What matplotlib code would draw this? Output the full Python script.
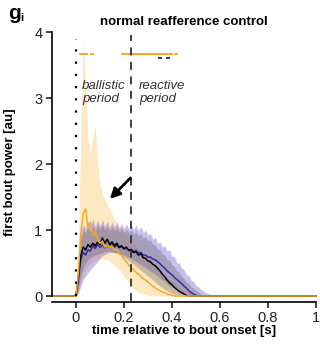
import numpy as np
import matplotlib
matplotlib.use("Agg")
import matplotlib.pyplot as plt

plt.rcParams['font.family'] = ['Liberation Sans', 'DejaVu Sans']

# time bins (s) after bout onset; everything outside is zero
time = np.round(np.arange(0, 0.61, 0.01), 2)
t_start, t_end = -0.1, 1.0

# black: normal reafference (mean, band)
k_mean = [0, 0.30, 0.62, 0.74, 0.70, 0.78, 0.74, 0.80, 0.76, 0.82,
          0.78, 0.88, 0.80, 0.86, 0.78, 0.82, 0.76, 0.80, 0.74, 0.76,
          0.72, 0.74, 0.69, 0.70, 0.66, 0.67, 0.62, 0.64, 0.58, 0.57,
          0.53, 0.52, 0.48, 0.46, 0.42, 0.38, 0.33, 0.29, 0.24, 0.20,
          0.17, 0.13, 0.10, 0.07, 0.05, 0.03, 0.01, 0, 0, 0,
          0, 0, 0, 0, 0, 0, 0, 0, 0, 0, 0]
k_hi = [0, 0.50, 0.85, 1.00, 0.96, 1.05, 0.98, 1.06, 0.99, 1.07,
        1.00, 1.08, 1.00, 1.06, 0.99, 1.05, 0.98, 1.04, 0.97, 1.03,
        0.96, 1.02, 0.95, 1.00, 0.93, 0.98, 0.91, 0.95, 0.88, 0.90,
        0.84, 0.85, 0.78, 0.78, 0.71, 0.70, 0.63, 0.62, 0.55, 0.54,
        0.47, 0.45, 0.38, 0.36, 0.30, 0.27, 0.21, 0.19, 0.14, 0.12,
        0.08, 0.06, 0.03, 0.02, 0.01, 0, 0, 0, 0, 0, 0]
k_lo = [0, 0.10, 0.30, 0.42, 0.50, 0.55, 0.58, 0.60, 0.62, 0.63,
        0.64, 0.66, 0.67, 0.68, 0.68, 0.67, 0.66, 0.65, 0.63, 0.61,
        0.58, 0.56, 0.53, 0.50, 0.48, 0.45, 0.42, 0.39, 0.36, 0.33,
        0.30, 0.27, 0.24, 0.21, 0.18, 0.15, 0.12, 0.10, 0.08, 0.06,
        0.04, 0.03, 0.02, 0.01, 0, 0, 0, 0, 0, 0,
        0, 0, 0, 0, 0, 0, 0, 0, 0, 0, 0]

# purple
p_mean = [0, 0.25, 0.55, 0.66, 0.62, 0.70, 0.68, 0.76, 0.72, 0.78,
          0.74, 0.77, 0.73, 0.77, 0.74, 0.78, 0.74, 0.77, 0.73, 0.75,
          0.71, 0.73, 0.69, 0.71, 0.67, 0.69, 0.65, 0.66, 0.62, 0.62,
          0.59, 0.59, 0.56, 0.55, 0.52, 0.49, 0.45, 0.42, 0.38, 0.35,
          0.32, 0.28, 0.25, 0.22, 0.19, 0.15, 0.12, 0.08, 0.05, 0.03,
          0.01, 0, 0, 0, 0, 0, 0, 0, 0, 0, 0]
p_hi = [0, 0.55, 0.95, 1.08, 1.02, 1.14, 1.05, 1.16, 1.06, 1.15,
        1.06, 1.15, 1.05, 1.13, 1.04, 1.12, 1.04, 1.11, 1.03, 1.10,
        1.02, 1.09, 1.01, 1.08, 1.00, 1.08, 0.99, 1.05, 0.96, 1.00,
        0.92, 0.95, 0.86, 0.89, 0.80, 0.82, 0.74, 0.76, 0.68, 0.70,
        0.60, 0.60, 0.50, 0.50, 0.42, 0.40, 0.32, 0.31, 0.24, 0.22,
        0.16, 0.14, 0.10, 0.08, 0.05, 0.04, 0.02, 0.01, 0, 0, 0]
p_lo = [0, 0.05, 0.15, 0.25, 0.30, 0.35, 0.40, 0.44, 0.48, 0.52,
        0.58, 0.61, 0.63, 0.65, 0.66, 0.66, 0.66, 0.65, 0.64, 0.63,
        0.62, 0.60, 0.58, 0.56, 0.54, 0.52, 0.50, 0.48, 0.45, 0.43,
        0.40, 0.38, 0.35, 0.33, 0.30, 0.27, 0.24, 0.21, 0.18, 0.16,
        0.14, 0.12, 0.10, 0.08, 0.06, 0.05, 0.04, 0.03, 0.02, 0.01,
        0, 0, 0, 0, 0, 0, 0, 0, 0, 0, 0]

# orange
o_mean = [0, 0.35, 0.95, 1.25, 1.32, 1.02, 1.12, 0.92, 0.97, 0.84,
          0.80, 0.83, 0.74, 0.77, 0.74, 0.76, 0.70, 0.71, 0.64, 0.62,
          0.55, 0.52, 0.47, 0.43, 0.40, 0.36, 0.33, 0.30, 0.26, 0.24,
          0.21, 0.18, 0.15, 0.12, 0.10, 0.08, 0.06, 0.05, 0.03, 0.02,
          0.01, 0, 0, 0, 0, 0, 0, 0, 0, 0,
          0, 0, 0, 0, 0, 0, 0, 0, 0, 0, 0]
o_hi = [0, 0.80, 2.50, 3.90, 3.20, 2.40, 2.15, 2.40, 2.60, 2.00,
        1.70, 1.55, 1.46, 1.40, 1.32, 1.24, 1.17, 1.12, 1.07, 1.02,
        0.97, 0.93, 0.88, 0.84, 0.80, 0.76, 0.72, 0.69, 0.66, 0.62,
        0.58, 0.54, 0.50, 0.46, 0.42, 0.38, 0.34, 0.31, 0.28, 0.25,
        0.22, 0.19, 0.16, 0.14, 0.11, 0.09, 0.07, 0.05, 0.03, 0.02,
        0.01, 0, 0, 0, 0, 0, 0, 0, 0, 0, 0]
o_lo = [0, 0.05, 0.20, 0.30, 0.40, 0.45, 0.50, 0.52, 0.55, 0.56,
        0.56, 0.57, 0.56, 0.55, 0.53, 0.50, 0.47, 0.43, 0.39, 0.35,
        0.30, 0.25, 0.20, 0.16, 0.12, 0.08, 0.06, 0.04, 0.03, 0.02,
        0.01, 0, 0, 0, 0, 0, 0, 0, 0, 0,
        0, 0, 0, 0, 0, 0, 0, 0, 0, 0,
        0, 0, 0, 0, 0, 0, 0, 0, 0, 0, 0]

# significant bins
o_sig = [0.02, 0.025, 0.03, 0.035, 0.04, 0.065,
         0.195, 0.2, 0.205, 0.21, 0.215, 0.22, 0.225, 0.23, 0.235, 0.24,
         0.245, 0.25, 0.255, 0.26, 0.265, 0.27, 0.275, 0.28, 0.285, 0.29,
         0.295, 0.3, 0.305, 0.31, 0.315, 0.32, 0.325, 0.33, 0.335, 0.34,
         0.345, 0.35, 0.355, 0.36, 0.365, 0.38, 0.395, 0.415]
p_sig = [0.35, 0.385]
o_sig_level = 3.66
p_sig_level = 3.60

bout_onset = 0.0
period_split = 0.23

ORANGE = '#f7a823'
PURPLE = '#3f27a3'


def pad(v):
    return np.concatenate([[0], v, [0]])


t = np.concatenate([[t_start], time, [t_end]])

fig = plt.figure(figsize=(3.2, 3.44), dpi=100)
ax = fig.add_axes([52 / 320, 1 - 296 / 344, 264 / 320, 264 / 344])

ax.fill_between(t, pad(o_lo), pad(o_hi), color='#fbb848', alpha=0.32, lw=0)
ax.fill_between(t, pad(p_lo), pad(p_hi), color='#6a5acd', alpha=0.38, lw=0)
ax.fill_between(t, pad(k_lo), pad(k_hi), color='#5a5050', alpha=0.3, lw=0)

ax.plot(t, pad(p_mean), color=PURPLE, lw=1.1, clip_on=False)
ax.plot(t, pad(k_mean), color='black', lw=1.1, clip_on=False)
ax.plot(t, pad(o_mean), color=ORANGE, lw=1.1, clip_on=False)

ax.plot(o_sig, [o_sig_level] * len(o_sig), ls='none', marker='_',
        ms=3.5, mew=1.4, color=ORANGE)
ax.plot(p_sig, [p_sig_level] * len(p_sig), ls='none', marker='_',
        ms=2.5, mew=1.4, color=PURPLE)

ax.plot([bout_onset, bout_onset], [0, 3.9], color='black', lw=1.6,
        dashes=(1, 4.5), clip_on=False)
ax.plot([period_split, period_split], [-0.08, 3.95], color='#333333',
        lw=1.3, dashes=(4.4, 3.6), clip_on=False)

ax.text(0.025, 3.08, 'ballistic\nperiod', style='italic', fontsize=9.5,
        ha='left', va='center', linespacing=1.15, color='#333333')
ax.text(0.262, 3.08, 'reactive\nperiod', style='italic', fontsize=9.5,
        ha='left', va='center', linespacing=1.15, color='#333333')

ax.annotate('', xy=(0.133, 1.44), xytext=(0.235, 1.82),
            arrowprops=dict(arrowstyle='-|>,head_length=0.6,head_width=0.3',
                            color='black', lw=2))

ax.set_xlim(t_start, t_end)
ax.set_ylim(0, 4)
ax.set_xticks([0, 0.2, 0.4, 0.6, 0.8, 1])
ax.set_xticklabels(['0', '0.2', '0.4', '0.6', '0.8', '1'])
ax.set_yticks([0, 1, 2, 3, 4])
for s in ['top', 'right']:
    ax.spines[s].set_visible(False)
ax.spines['bottom'].set_position(('outward', 4))
ax.spines['left'].set_linewidth(1.2)
ax.spines['bottom'].set_linewidth(1.2)
ax.tick_params(axis='both', labelsize=10.5, length=4, width=1.2, pad=3,
               color='#222222', labelcolor='#222222')

ax.set_xlabel('time relative to bout onset [s]', fontsize=9.5,
              fontweight='bold', labelpad=0)
ax.set_ylabel('first bout power [au]', fontsize=9.5, fontweight='bold')
ax.yaxis.set_label_coords(-0.135, 0.47)
ax.set_title('normal reafference control', fontsize=9.5,
             fontweight='bold', pad=5)

fig.text(8 / 320, 1 - 19 / 344, 'g', fontsize=15, fontweight='bold',
         ha='left', va='baseline')
fig.text(20 / 320, 1 - 21 / 344, 'i', fontsize=8, fontweight='bold',
         ha='left', va='baseline')

fig.savefig('out.png', dpi=100)
